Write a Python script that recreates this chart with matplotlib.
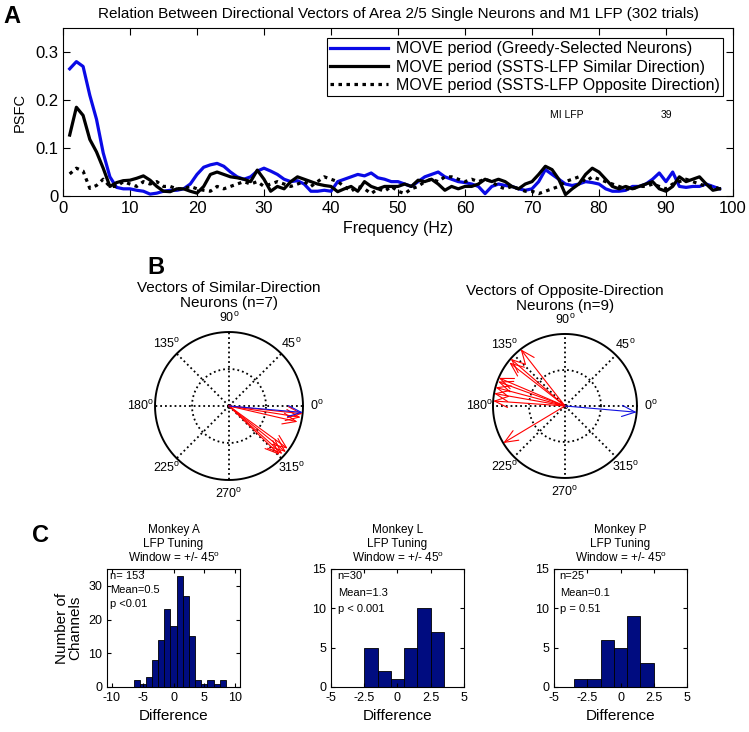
import numpy as np
import matplotlib
matplotlib.use('Agg')
import matplotlib.pyplot as plt

plt.rcParams['font.family'] = ['Liberation Sans', 'DejaVu Sans']
plt.rcParams['mathtext.fontset'] = 'custom'
plt.rcParams['mathtext.rm'] = 'Liberation Sans'

# ---- panel A data (PSFC vs frequency) ----
freq = np.arange(1, 99)
psfc_greedy = [0.265, 0.280, 0.270, 0.210, 0.160, 0.090, 0.040, 0.018, 0.015, 0.015,
               0.012, 0.010, 0.004, 0.006, 0.010, 0.012, 0.012, 0.015, 0.025, 0.045,
               0.060, 0.065, 0.068, 0.062, 0.050, 0.040, 0.035, 0.040, 0.052, 0.058,
               0.052, 0.045, 0.035, 0.030, 0.032, 0.025, 0.010, 0.010, 0.012, 0.010,
               0.030, 0.035, 0.040, 0.045, 0.042, 0.048, 0.038, 0.035, 0.030, 0.030,
               0.025, 0.020, 0.030, 0.040, 0.045, 0.050, 0.040, 0.035, 0.030, 0.028,
               0.025, 0.020, 0.005, 0.020, 0.025, 0.022, 0.020, 0.015, 0.012, 0.015,
               0.030, 0.055, 0.045, 0.035, 0.025, 0.022, 0.025, 0.030, 0.028, 0.025,
               0.015, 0.010, 0.010, 0.012, 0.020, 0.020, 0.025, 0.035, 0.048, 0.030,
               0.050, 0.020, 0.018, 0.020, 0.020, 0.025, 0.020, 0.015]
psfc_similar = [0.127, 0.185, 0.168, 0.118, 0.092, 0.058, 0.020, 0.028, 0.032, 0.033,
                0.037, 0.042, 0.033, 0.020, 0.010, 0.009, 0.015, 0.015, 0.010, 0.006,
                0.020, 0.045, 0.050, 0.045, 0.040, 0.038, 0.035, 0.030, 0.054, 0.035,
                0.010, 0.020, 0.015, 0.030, 0.040, 0.035, 0.030, 0.025, 0.022, 0.020,
                0.009, 0.015, 0.020, 0.010, 0.030, 0.020, 0.015, 0.020, 0.020, 0.020,
                0.025, 0.020, 0.033, 0.030, 0.035, 0.025, 0.012, 0.020, 0.015, 0.020,
                0.020, 0.025, 0.035, 0.030, 0.035, 0.030, 0.020, 0.015, 0.025, 0.030,
                0.045, 0.062, 0.055, 0.035, 0.003, 0.015, 0.025, 0.045, 0.058, 0.050,
                0.035, 0.020, 0.015, 0.020, 0.015, 0.020, 0.025, 0.030, 0.015, 0.010,
                0.020, 0.040, 0.030, 0.035, 0.040, 0.025, 0.012, 0.015]
psfc_opposite = [0.046, 0.058, 0.052, 0.016, 0.022, 0.035, 0.020, 0.020, 0.030, 0.025,
                 0.020, 0.030, 0.025, 0.030, 0.020, 0.020, 0.015, 0.015, 0.020, 0.015,
                 0.012, 0.010, 0.020, 0.015, 0.020, 0.025, 0.030, 0.025, 0.030, 0.020,
                 0.025, 0.030, 0.025, 0.020, 0.025, 0.030, 0.020, 0.030, 0.040, 0.035,
                 0.030, 0.020, 0.010, 0.020, 0.015, 0.005, 0.015, 0.010, 0.020, 0.010,
                 0.005, 0.015, 0.020, 0.030, 0.035, 0.030, 0.040, 0.040, 0.035, 0.030,
                 0.035, 0.030, 0.035, 0.030, 0.020, 0.015, 0.020, 0.015, 0.010, 0.010,
                 0.005, 0.010, 0.015, 0.020, 0.030, 0.035, 0.040, 0.030, 0.040, 0.035,
                 0.030, 0.025, 0.020, 0.015, 0.015, 0.020, 0.020, 0.025, 0.020, 0.015,
                 0.025, 0.030, 0.035, 0.030, 0.025, 0.020, 0.020, 0.015]

# ---- panel B data (vector angles in degrees, lengths) ----
greedy_angle = -5
greedy_len = 1.0
similar_angles = [-6, -9, -13, -36, -39, -42, -44]
similar_lens = [1.0, 0.98, 0.95, 0.98, 0.99, 0.97, 0.95]
opposite_angles = [128, 139, 142, 157, 160, 165, 170, 176, 211]
opposite_lens = [1.0, 1.0, 0.98, 1.0, 0.99, 1.0, 1.0, 1.0, 1.0]

# ---- panel C data (histograms of difference) ----
hist_A_centers = [-6, -5, -4, -3, -2, -1, 0, 1, 2, 3, 4, 5, 6, 7, 8]
hist_A_counts = [2, 1, 3, 8, 14, 23, 18, 33, 27, 15, 2, 1, 2, 1, 2]
hist_L_centers = [-2, -1, 0, 1, 2, 3]
hist_L_counts = [5, 2, 1, 5, 10, 7]
hist_P_centers = [-3, -2, -1, 0, 1, 2]
hist_P_counts = [1, 1, 6, 5, 9, 3]

fig = plt.figure(figsize=(7.49, 7.32), dpi=100)

# ================= A =================
ax = fig.add_axes([0.0841, 0.7322, 0.8945, 0.2295])
ax.plot(freq, psfc_greedy, color='#0a0ae6', lw=2.3,
        label='MOVE period (Greedy-Selected Neurons)')
ax.plot(freq, psfc_similar, color='k', lw=2.3,
        label='MOVE period (SSTS-LFP Similar Direction)')
ax.plot(freq, psfc_opposite, color='k', lw=2.3, linestyle=(0, (1.1, 1.4)),
        label='MOVE period (SSTS-LFP Opposite Direction)')
ax.set_xlim(0, 100)
ax.set_ylim(0, 0.35)
ax.set_xticks(range(0, 101, 10))
ax.set_yticks([0, 0.1, 0.2, 0.3])
ax.set_yticklabels(['0', '0.1', '0.2', '0.3'])
ax.tick_params(direction='in', top=True, right=True, labelsize=12, length=5)
ax.set_xlabel('Frequency (Hz)', fontsize=11.5)
ax.set_ylabel('PSFC', fontsize=10.5, labelpad=6)
ax.set_title('Relation Between Directional Vectors of Area 2/5 Single Neurons and M1 LFP (302 trials)',
             fontsize=11, pad=7)
leg = ax.legend(loc='upper right', bbox_to_anchor=(0.985, 0.94), borderaxespad=0,
                fontsize=11.5, handlelength=3.6, fancybox=False, framealpha=1,
                edgecolor='k', borderpad=0.2, labelspacing=0.2, handletextpad=0.5)
leg.get_frame().set_linewidth(0.8)
ax.text(0.752, 0.482, 'MI LFP', transform=ax.transAxes, fontsize=7.5, ha='center', va='center')
ax.text(0.90, 0.482, '39', transform=ax.transAxes, fontsize=7.5, ha='center', va='center')

fig.text(0.016, 0.977, 'A', fontsize=17, fontweight='bold', ha='center', va='center')
fig.text(0.208, 0.634, 'B', fontsize=17, fontweight='bold', ha='center', va='center')
fig.text(0.054, 0.269, 'C', fontsize=17, fontweight='bold', ha='center', va='center')


# ================= B =================
def draw_compass(ax, angles, lens, title):
    t = np.linspace(0, 2 * np.pi, 361)
    ax.plot(np.cos(t), np.sin(t), color='k', lw=1.4)
    ax.plot(0.5 * np.cos(t), 0.5 * np.sin(t), color='k', lw=1.3, linestyle=':')
    for a in range(0, 360, 45):
        r = np.deg2rad(a)
        ax.plot([0, np.cos(r)], [0, np.sin(r)], color='k', lw=1.3, linestyle=':')
        ax.text(1.19 * np.cos(r), 1.19 * np.sin(r), '%d$^\\mathrm{o}$' % a,
                fontsize=9, ha='center', va='center')
    for a, l in zip(angles, lens):
        r = np.deg2rad(a)
        ax.annotate('', xy=(l * np.cos(r), l * np.sin(r)), xytext=(0, 0),
                    arrowprops=dict(arrowstyle='->,head_length=0.6,head_width=0.25',
                                    color='r', lw=0.8, shrinkA=0, shrinkB=0,
                                    mutation_scale=16))
    r = np.deg2rad(greedy_angle)
    ax.annotate('', xy=(greedy_len * np.cos(r), greedy_len * np.sin(r)), xytext=(0, 0),
                arrowprops=dict(arrowstyle='->,head_length=0.6,head_width=0.25',
                                color='#1010e0', lw=0.8, shrinkA=0, shrinkB=0,
                                mutation_scale=16))
    ax.plot(0, 0, 'o', ms=3, mfc='none', mec='k', mew=0.6)
    ax.text(0, 1.49, title, fontsize=11, ha='center', va='center', linespacing=1.1)
    ax.set_xlim(-1.6, 1.6)
    ax.set_ylim(-1.6, 1.6)
    ax.set_aspect('equal')
    ax.axis('off')


axb1 = fig.add_axes([0.1477, 0.2836, 0.3161, 0.3235])
draw_compass(axb1, similar_angles, similar_lens,
             'Vectors of Similar-Direction\nNeurons (n=7)')
axb2 = fig.add_axes([0.6005, 0.2880, 0.3076, 0.3148])
draw_compass(axb2, opposite_angles, opposite_lens,
             'Vectors of Opposite-Direction\nNeurons (n=9)')

# ================= C =================
navy = '#000c80'
hist_specs = [
    (0.1429, hist_A_centers, hist_A_counts, 'Monkey A', (-10.8, 10.8), [-10, -5, 0, 5, 10],
     ['-10', '-5', '0', '5', '10'], 35, [0, 10, 20, 30],
     ['n= 153', 'Mean=0.5', 'p <0.01'], [0.937, 0.824, 0.705], 0.025),
    (0.4419, hist_L_centers, hist_L_counts, 'Monkey L', (-5, 5), [-5, -2.5, 0, 2.5, 5],
     ['-5', '-2.5', '0', '2.5', '5'], 15, [0, 5, 10, 15],
     ['n=30', 'Mean=1.3', 'p < 0.001'], [0.943, 0.795, 0.659], 0.05),
    (0.7397, hist_P_centers, hist_P_counts, 'Monkey P', (-5, 5), [-5, -2.5, 0, 2.5, 5],
     ['-5', '-2.5', '0', '2.5', '5'], 15, [0, 5, 10, 15],
     ['n=25', 'Mean=0.1', 'p = 0.51'], [0.943, 0.795, 0.659], 0.043),
]
for i, (left, cen, cnt, name, xl, xt, xtl, ytop, yt, notes, ny, nx) in enumerate(hist_specs):
    axc = fig.add_axes([left, 0.0615, 0.1776, 0.1612])
    axc.bar(cen, cnt, width=1.0, color=navy, edgecolor='k', lw=0.6)
    axc.set_xlim(*xl)
    axc.set_ylim(0, ytop)
    axc.set_xticks(xt)
    axc.set_xticklabels(xtl)
    axc.set_yticks(yt)
    axc.tick_params(direction='in', top=True, right=True, labelsize=9, length=3)
    axc.set_xlabel('Difference', fontsize=11)
    axc.set_title(name + '\nLFP Tuning\nWindow = +/- 45$^\\mathrm{o}$', fontsize=8.5,
                  pad=5, linespacing=1.15)
    for txt, yy in zip(notes, ny):
        axc.text(nx, yy, txt, transform=axc.transAxes, fontsize=8, ha='left', va='center')
    if i == 0:
        axc.set_ylabel('Number of\nChannels', fontsize=11, labelpad=4, linespacing=0.95)

fig.savefig('out.png', dpi=100)
